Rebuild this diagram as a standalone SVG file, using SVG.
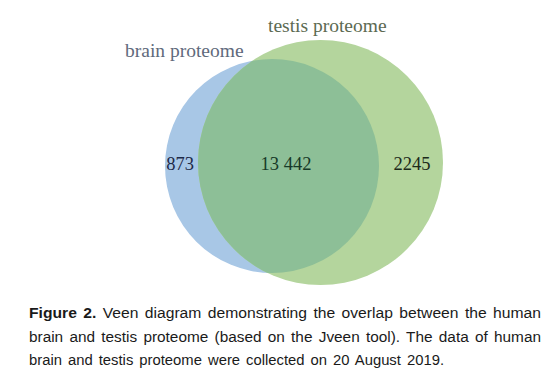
<svg xmlns="http://www.w3.org/2000/svg" width="554" height="390" viewBox="0 0 554 390">
<style>
.lbl{font-family:"Liberation Serif","Times New Roman",serif;font-size:19.5px}
.num{font-family:"Liberation Serif","Times New Roman",serif;font-size:18.5px;text-anchor:middle}
.cap{font-family:"Liberation Sans",Arial,sans-serif;font-size:15.5px;fill:#1a1a1a}
.just{word-spacing:2px}
.last{word-spacing:2px}
</style>
<defs>
<clipPath id="clipGreen"><circle cx="320.5" cy="162.5" r="122.5"/></clipPath>
</defs>
<rect width="554" height="390" fill="#ffffff"/>
<g id="brain-set">
<circle cx="272" cy="166" r="107" fill="#a8c7e6"/>
</g>
<g id="testis-set">
<circle cx="320.5" cy="162.5" r="122.5" fill="#b4d59d"/>
</g>
<g id="overlap">
<circle cx="272" cy="166" r="107" fill="#8dbf97" clip-path="url(#clipGreen)"/>
</g>
<g id="labels">
<text class="lbl" x="125" y="57" fill="#5f6a7c">brain proteome</text>
<text class="lbl" x="268" y="32" fill="#5c6a52">testis proteome</text>
</g>
<g id="counts">
<text class="num" x="180" y="170" fill="#1e2a48">873</text>
<text class="num" x="286" y="170" fill="#173a28">13 442</text>
<text class="num" x="412" y="170" fill="#1c2a1a">2245</text>
</g>
<g id="caption">
<text class="cap just" x="29" y="318" textLength="512" lengthAdjust="spacingAndGlyphs"><tspan font-weight="bold">Figure 2.</tspan> Veen diagram demonstrating the overlap between the human</text>
<text class="cap just" x="29" y="342" textLength="512" lengthAdjust="spacingAndGlyphs">brain and testis proteome (based on the Jveen tool). The data of human</text>
<text class="cap last" x="29" y="365" textLength="415" lengthAdjust="spacingAndGlyphs">brain and testis proteome were collected on 20 August 2019.</text>
</g>
</svg>
